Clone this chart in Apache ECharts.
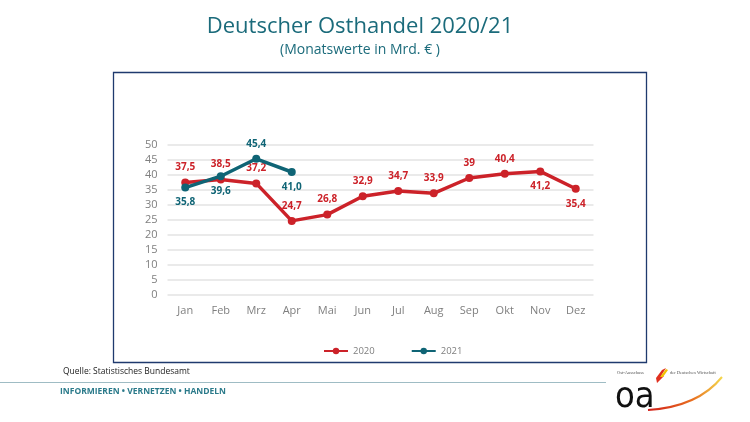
<!DOCTYPE html>
<html><head><meta charset="utf-8">
<script src="https://cdn.jsdelivr.net/npm/echarts@6/dist/echarts.min.js"></script>
<style>html,body{margin:0;padding:0;background:#fff}#c{width:750px;height:422px}</style>
</head><body><div id="c"></div>
<script>
const months = ['Jan','Feb','Mrz','Apr','Mai','Jun','Jul','Aug','Sep','Okt','Nov','Dez'];
const values2020 = [37.5,38.5,37.2,24.7,26.8,32.9,34.7,33.9,39,40.4,41.2,35.4];
const values2021 = [35.8,39.6,45.4,41.0];
const labelPos2020 = ['top','top','top','top','top','top','top','top','top','top','bottom','bottom'];
const labelPos2021 = ['bottom','bottom','top','bottom'];
const labels2020 = ['37,5','38,5','37,2','24,7','26,8','32,9','34,7','33,9','39','40,4','41,2','35,4'];
const labels2021 = ['35,8','39,6','45,4','41,0'];

const RED = '#CC2229', TEAL = '#0F6475';
const chart = echarts.init(document.getElementById('c'));
const font = 'Open Sans, Noto Sans, sans-serif';

function mk(vals, labs, pos){
  return vals.map((v,i)=>({value:v,label:{position:pos[i],formatter:labs[i]}}));
}

chart.setOption({
  animation:false,
  textStyle:{fontFamily:font},
  title:{
    text:'Deutscher Osthandel 2020/21',
    subtext:'(Monatswerte in Mrd. € )',
    left:355, top:11, textAlign:'center', itemGap:5,
    textStyle:{color:'#1B6B7B',fontSize:22,fontWeight:'normal',fontFamily:font},
    subtextStyle:{color:'#1B6B7B',fontSize:14,fontFamily:font}
  },
  grid:{left:167.5,right:156.5,top:145,bottom:127,containLabel:false},
  legend:{
    bottom:61, left:318, itemGap:36, itemWidth:24, itemHeight:8,
    textStyle:{color:'#7F7F7F',fontSize:9.5,fontFamily:font},
    data:['2020','2021']
  },
  xAxis:{type:'category',data:months,boundaryGap:true,
    axisLine:{show:false},axisTick:{show:false},
    axisLabel:{color:'#7F7F7F',fontSize:11,margin:10}},
  yAxis:{type:'value',min:0,max:50,interval:5,
    axisLine:{show:false},axisTick:{show:false},
    axisLabel:{color:'#7F7F7F',fontSize:11,margin:10},
    splitLine:{lineStyle:{color:'#E3E3E3',width:1.5}}},
  series:[
    {name:'2020',type:'line',data:mk(values2020,labels2020,labelPos2020),
     color:RED,symbol:'circle',symbolSize:8,lineStyle:{width:3.5,color:RED},itemStyle:{color:RED},
     label:{show:true,color:RED,fontWeight:'bold',fontSize:10,distance:6},z:2},
    {name:'2021',type:'line',data:mk(values2021,labels2021,labelPos2021),
     color:TEAL,symbol:'circle',symbolSize:8,lineStyle:{width:3.5,color:TEAL},itemStyle:{color:TEAL},
     label:{show:true,color:TEAL,fontWeight:'bold',fontSize:10,distance:6},z:3}
  ],
  graphic:[
    {type:'rect',shape:{x:113.5,y:72.5,width:533,height:290},style:{fill:'none',stroke:'#1F3A6E',lineWidth:1.3},silent:true,z:-1},
    {type:'text',left:63,top:367,style:{text:'Quelle: Statistisches Bundesamt',fontSize:8.5,fill:'#222',fontFamily:font}},
    {type:'line',shape:{x1:0,y1:382.5,x2:606,y2:382.5},style:{stroke:'#9FBCC4',lineWidth:1.2}},
    {type:'text',left:60,top:387,style:{text:'INFORMIEREN • VERNETZEN • HANDELN',fontSize:8.5,fontWeight:'bold',fill:'#2A7A8A',fontFamily:font,letterSpacing:0.2}},
    {type:'text',left:617,top:370,style:{text:'Ost-Ausschuss',fontSize:4.5,fill:'#555',fontFamily:'Liberation Serif'}},
    {type:'text',left:670,top:370,style:{text:'der Deutschen Wirtschaft',fontSize:4.5,fill:'#555',fontFamily:'Liberation Serif'}},
    {type:'polygon',shape:{points:[[656,378],[662,370],[666,368],[661,376],[664,376],[657,383]]},style:{fill:'#E03020'}},
    {type:'polygon',shape:{points:[[660,377],[666,369],[668,370],[663,377]]},style:{fill:'#F2C200'}},
    {type:'text',left:615,top:380,style:{text:'oa',fontSize:36,fill:'#111',fontFamily:'DejaVu Sans Condensed, Liberation Sans Narrow, sans-serif',letterSpacing:-2}},
    {type:'bezierCurve',shape:{x1:648,y1:410,cpx1:680,cpy1:408,cpx2:705,cpy2:398,x2:722,y2:377},
     style:{fill:'none',lineWidth:2,stroke:new echarts.graphic.LinearGradient(0,0,1,0,[{offset:0,color:'#D01818'},{offset:0.6,color:'#E87020'},{offset:1,color:'#F5E050'}])}}
  ]
});
</script></body></html>
